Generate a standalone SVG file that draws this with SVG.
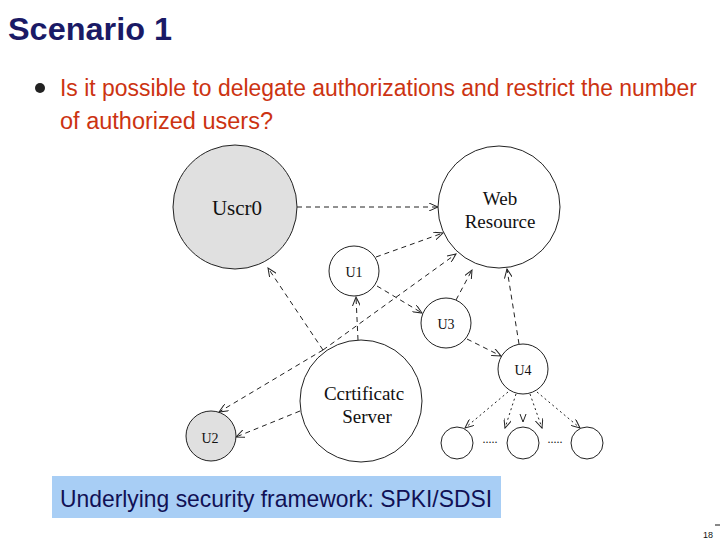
<svg xmlns="http://www.w3.org/2000/svg" width="720" height="540" viewBox="0 0 720 540">
<style>
.n{fill:#fff;stroke:#222;stroke-width:1}
.g{fill:#e0e0e0;stroke:#222;stroke-width:1}
.t{font-family:"Liberation Serif",serif;fill:#111;text-anchor:middle}
.c{fill:none;stroke:#222;stroke-width:1;stroke-dasharray:5,4;marker-end:url(#a)}
.d{fill:none;stroke:#222;stroke-width:1;stroke-dasharray:2,3;marker-end:url(#a)}
</style>
<defs><marker id="a" markerWidth="10" markerHeight="8" refX="9" refY="4" orient="auto" markerUnits="userSpaceOnUse"><path d="M0,0 L9,4 L0,8" fill="none" stroke="#222"/></marker></defs>
<rect width="720" height="540" fill="#fff"/>
<text x="8" y="40" font-family="Liberation Sans,sans-serif" font-weight="bold" font-size="31" fill="#1a1a66" textLength="164" lengthAdjust="spacingAndGlyphs">Scenario 1</text>
<circle cx="40" cy="88" r="5" fill="#222"/>
<g font-family="Liberation Sans,sans-serif" font-size="23" fill="#cc3311">
<text x="60" y="96" textLength="637" lengthAdjust="spacingAndGlyphs">Is it possible to delegate authorizations and restrict the number</text>
<text x="60" y="129" textLength="213" lengthAdjust="spacingAndGlyphs">of authorized users?</text>
</g>
<g id="connectors">
<path class="c" d="M297,207 L438,207" stroke-width="1.6"/>
<path class="c" d="M376,257 L443,233"/>
<path class="c" d="M323,350 L456,254"/>
<path class="c" d="M323,350 L219,412"/>
<path class="c" d="M377,286 L422,313"/>
<path class="c" d="M456,300 L472,270"/>
<path class="c" d="M519,344 L507,269"/>
<path class="c" d="M467,339 L501,356"/>
<path class="c" d="M358,340 L356,297"/>
<path class="c" d="M323,350 L268,268" stroke-width="2.2"/>
<path class="c" d="M300,411 L236,437"/>
<path class="d" d="M508,392 L465,428"/>
<path class="d" d="M516,394 L505,428"/>
<path class="d" d="M530,394 L542,428"/>
<path class="d" d="M537,392 L580,428"/>
<path d="M520,414 L523,422 L526,414" fill="none" stroke="#222"/>
</g>
<g id="user0"><circle class="g" cx="235" cy="207" r="62"/><text class="t" x="237" y="215" font-size="21">Uscr0</text></g>
<g id="web"><circle class="n" cx="499" cy="207" r="61"/><text class="t" x="500" y="205" font-size="19">Web</text><text class="t" x="500" y="228" font-size="19">Resource</text></g>
<g id="u1"><circle class="n" cx="354" cy="271" r="25"/><text class="t" x="354" y="277" font-size="14">U1</text></g>
<g id="u3"><circle class="n" cx="446" cy="323" r="25"/><text class="t" x="446" y="329" font-size="14">U3</text></g>
<g id="u4"><circle class="n" cx="523" cy="369" r="25"/><text class="t" x="523" y="375" font-size="14">U4</text></g>
<g id="cert"><circle class="n" cx="361" cy="401" r="61"/><text class="t" x="364" y="400" font-size="19">Ccrtificatc</text><text class="t" x="367" y="423" font-size="19">Server</text></g>
<g id="u2"><circle class="g" cx="211" cy="436" r="25"/><text class="t" x="210" y="443" font-size="14">U2</text></g>
<g id="c1"><circle class="n" cx="457" cy="443" r="16"/></g>
<g id="c2"><circle class="n" cx="523" cy="443" r="16"/></g>
<g id="c3"><circle class="n" cx="587" cy="443" r="16"/></g>
<text class="t" x="490" y="443" font-size="12">.....</text>
<text class="t" x="555" y="443" font-size="12">.....</text>
<rect x="52" y="476" width="449" height="42" fill="#a8cef5"/>
<text x="60" y="507" font-family="Liberation Sans,sans-serif" font-size="24" fill="#111155" textLength="432" lengthAdjust="spacingAndGlyphs">Underlying security framework: SPKI/SDSI</text>
<text x="703" y="538" font-family="Liberation Sans,sans-serif" font-size="9" fill="#111">18</text>
<path d="M715,525 L720,525" stroke="#111"/>
</svg>
